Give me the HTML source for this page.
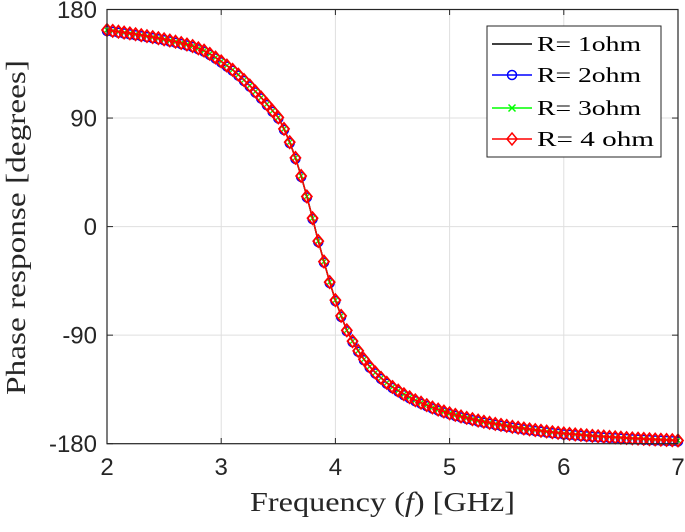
<!DOCTYPE html>
<html><head><meta charset="utf-8"><style>
body{margin:0;background:#fff;}
svg text{font-family:"Liberation Sans",sans-serif;}
.serif{font-family:"Liberation Serif",serif;}
</style></head><body>
<svg id="chart" width="685" height="527" viewBox="0 0 685 527" xmlns="http://www.w3.org/2000/svg">
<rect width="685" height="527" fill="#fff"/>
<g id="grid"></g>
<g id="series"></g>
<rect x="107" y="9.5" width="571" height="434.2" fill="none" stroke="#262626" stroke-width="1.2"/>
<g id="ticks"></g>
<text class="serif" x="250" y="511" font-size="27" textLength="265" lengthAdjust="spacingAndGlyphs" fill="#262626">Frequency (<tspan font-style="italic">f</tspan>) [GHz]</text>
<text class="serif" transform="translate(25,395) rotate(-90)" font-size="27" textLength="335" lengthAdjust="spacingAndGlyphs" fill="#262626">Phase response [degrees]</text>
<g>
<rect x="487" y="26" width="174" height="131" fill="#fff" stroke="#262626" stroke-width="1"/>
<line x1="492" y1="44" x2="532" y2="44" stroke="#000" stroke-width="1.5"/>
<text class="serif" x="537" y="51" font-size="21" textLength="104" lengthAdjust="spacingAndGlyphs" fill="#000">R= 1ohm</text>
<line x1="492" y1="75" x2="532" y2="75" stroke="#00f" stroke-width="1.5"/>
<circle cx="512" cy="75" r="4.5" fill="none" stroke="#00f" stroke-width="1.5"/>
<text class="serif" x="537" y="82" font-size="21" textLength="104" lengthAdjust="spacingAndGlyphs" fill="#000">R= 2ohm</text>
<line x1="492" y1="108" x2="532" y2="108" stroke="#0f0" stroke-width="1.5"/>
<path d="M508.5 104.5L515.5 111.5M515.5 104.5L508.5 111.5" stroke="#0f0" stroke-width="1.5"/>
<text class="serif" x="537" y="115" font-size="21" textLength="104" lengthAdjust="spacingAndGlyphs" fill="#000">R= 3ohm</text>
<line x1="492" y1="139" x2="532" y2="139" stroke="#f00" stroke-width="1.5"/>
<path d="M512 133L517 139L512 145L507 139Z" fill="none" stroke="#f00" stroke-width="1.5"/>
<text class="serif" x="537" y="146" font-size="21" textLength="117" lengthAdjust="spacingAndGlyphs" fill="#000">R= 4 ohm</text>
</g>
</svg>
<script>
const freqStart = 2, freqStep = 0.05;
const phaseR1 = [163,162.3,161.6,160.9,160.2,159.5,158.7,157.9,157.1,156.2,155.3,154.3,153.3,152.2,151,149.7,147.8,145.9,143.2,140.2,137,133.5,130,126,121.5,117,112,107,101.5,96,90.5,81,70,57,42,25,7,-12,-29,-46,-61,-74,-86,-95,-103,-110,-116,-121,-125.5,-129.5,-133,-136,-139,-141.5,-144,-146,-148,-150,-151.7,-153.3,-154.8,-156.1,-157.4,-158.6,-159.7,-160.8,-161.8,-162.7,-163.6,-164.4,-165.2,-166,-166.7,-167.4,-168.1,-168.7,-169.3,-169.9,-170.5,-171,-171.5,-171.9,-172.3,-172.7,-173.1,-173.5,-173.8,-174.1,-174.4,-174.7,-175,-175.3,-175.6,-175.8,-176,-176.3,-176.5,-176.7,-176.9,-177.1,-177.3];
const phaseR2 = phaseR1.slice();
const phaseR3 = phaseR1.slice();
const phaseR4 = phaseR1.slice();
const xTicks = [2,3,4,5,6,7];
const yTicks = [180,90,0,-90,-180];
const NS="http://www.w3.org/2000/svg";
const xs = f => 107 + (f-2)*114.2;
const ys = v => 9.5 + (180-v)*(434.2/360);
function mk(tag, attrs, parent){const e=document.createElementNS(NS,tag);for(const k in attrs)e.setAttribute(k,attrs[k]);parent.appendChild(e);return e;}
const grid=document.getElementById('grid'), ticks=document.getElementById('ticks'), ser=document.getElementById('series');
xTicks.forEach(t=>{
  const l=mk('line',{x1:xs(t),x2:xs(t),y1:9.5,y2:443.7,stroke:'#dfdfdf','stroke-width':1},grid);
  
  
  const tk=mk('line',{x1:xs(t),x2:xs(t),y1:443.7,y2:438,stroke:'#262626'},ticks);
  
  
  const tk2=mk('line',{x1:xs(t),x2:xs(t),y1:9.5,y2:15,stroke:'#262626'},ticks);
  
  
  const tx=mk('text',{x:xs(t),y:475,'font-size':24,'text-anchor':'middle',fill:'#262626'},ticks);
  tx.textContent=t;
  
  
});
yTicks.forEach(t=>{
  const l=mk('line',{x1:107,x2:678,y1:ys(t),y2:ys(t),stroke:'#dfdfdf','stroke-width':1},grid);
  
  
  const tk=mk('line',{x1:107,x2:113,y1:ys(t),y2:ys(t),stroke:'#262626'},ticks);
  
  
  const tk2=mk('line',{x1:672,x2:678,y1:ys(t),y2:ys(t),stroke:'#262626'},ticks);
  
  
  const tx=mk('text',{x:97,y:ys(t)+8.5,'font-size':24,'text-anchor':'end',fill:'#262626'},ticks);
  tx.textContent=t;
  
  
});
function pts(arr){return arr.map((v,i)=>[xs(freqStart+i*freqStep),ys(v)]);}
function line(arr,color,name){
  const p=mk('polyline',{points:pts(arr).map(q=>q.join(',')).join(' '),fill:'none',stroke:color,'stroke-width':1.5},ser);
  
  
}
line(phaseR1,'#000','line-r1');
line(phaseR2,'#00f','line-r2');
pts(phaseR2).forEach(q=>{
  const c=mk('circle',{cx:q[0],cy:q[1]+1,r:4.5,fill:'none',stroke:'#00f','stroke-width':1.5},ser);
  
  
});
line(phaseR3,'#0f0','line-r3');
pts(phaseR3).forEach(q=>{
  const c=mk('path',{d:`M${q[0]-3} ${q[1]-3}L${q[0]+3} ${q[1]+3}M${q[0]+3} ${q[1]-3}L${q[0]-3} ${q[1]+3}`,stroke:'#0f0','stroke-width':1.3},ser);
  
  
});
line(phaseR4,'#f00','line-r4');
pts(phaseR4).forEach(q=>{
  const c=mk('path',{d:`M${q[0]} ${q[1]-6}L${q[0]+5} ${q[1]}L${q[0]} ${q[1]+6}L${q[0]-5} ${q[1]}Z`,fill:'none',stroke:'#f00','stroke-width':1.8},ser);
  
  
});
</script>
</body></html>
